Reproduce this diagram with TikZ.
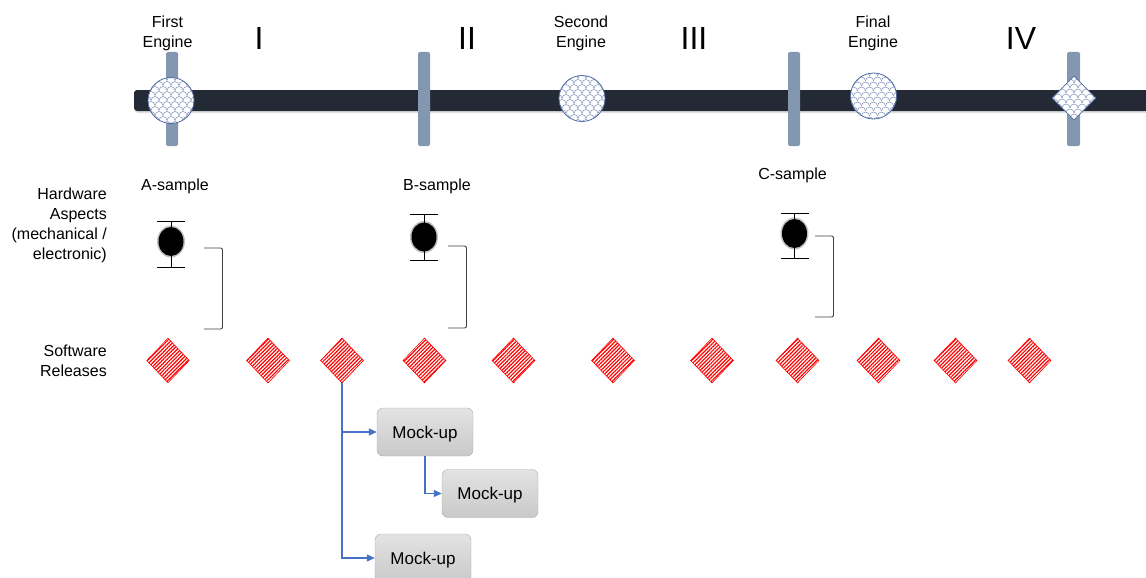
\documentclass[tikz,border=0pt]{standalone}
\usepackage{fontspec}
\setmainfont{Liberation Sans}
\usetikzlibrary{shapes.geometric,patterns.meta,arrows.meta,calc,shadows}

\definecolor{barc}{HTML}{232A35}
\definecolor{tickc}{HTML}{8497B0}
\definecolor{engb}{HTML}{4F6AA5}
\definecolor{engp}{HTML}{8C9DBF}
\definecolor{arrb}{HTML}{4472C4}
\definecolor{brk}{HTML}{404040}

\tikzset{
  lbl/.style={font=\fontsize{16}{20}\selectfont, align=center, inner sep=0pt},
  roman/.style={font=\fontsize{32}{36}\selectfont, inner sep=0pt},
  tickbar/.style={fill=tickc, rounded corners=2pt},
  scalefill/.style={fill=white, draw=engb, line width=0.8pt,
    path picture={
      \foreach \i in {-4,...,4} \foreach \j in {-6,...,6} {
        \draw[engp, line width=0.6pt]
          ($(path picture bounding box.center)+({\i*8+Mod(\j,2)*4-4},{\j*5})$) arc (180:360:4);
      }
    }},
  engine/.style={scalefill, circle, minimum size=46pt, inner sep=0pt},
  enginediam/.style={scalefill, diamond, minimum width=44pt, minimum height=44pt, inner sep=0pt},
  sw/.style={diamond, minimum width=43pt, minimum height=45pt, inner sep=0pt,
    draw=red, line width=0.6pt,
    pattern={Lines[angle=45,distance=2.6pt,line width=1.2pt]}, pattern color=red},
  ball/.style={ellipse, minimum width=25pt, minimum height=29pt, inner sep=0pt, fill=black},
  halo/.style={ellipse, minimum width=28pt, minimum height=32pt, inner sep=0pt, fill=black, opacity=0.25},
  errb/.style={line width=0.8pt, black},
  bracket/.style={draw=brk, line width=0.9pt, rounded corners=2pt},
  mock/.style={rounded corners=6pt, draw=gray!65, top color=gray!22, bottom color=gray!42,
    minimum width=96pt, minimum height=48pt, inner sep=0pt, text depth=0pt,
    font=\fontsize{17}{19}\selectfont},
  arr/.style={draw=arrb, line width=1.1pt, -{Triangle[length=8pt,width=7pt]}}
}

\begin{document}
\begin{tikzpicture}[x=1pt, y=-1pt]
\useasboundingbox (0,0) rectangle (1146,578);
\clip (0,0) rectangle (1146,578);

% timeline bar
\fill[barc, rounded corners=3pt, drop shadow={shadow xshift=1pt, shadow yshift=-2pt, opacity=0.25}] (134,90) rectangle (1160,111);

% vertical ticks
\fill[tickbar] (166,52) rectangle (178,146);
\fill[tickbar] (418,52) rectangle (430,146);
\fill[tickbar] (788,52) rectangle (800,146);
\fill[tickbar] (1067,52) rectangle (1080,146);

% engines
\node[engine] (e1) at (171,100.5) {};
\node[engine] (e2) at (582,98.5) {};
\node[engine] (e3) at (873.5,96) {};
\node[enginediam] (e4) at (1074,98) {};

% top labels
\node[lbl] (l1) at (167.5,33.5) {First\\Engine};
\node[lbl] (l2) at (581,33.5) {Second\\Engine};
\node[lbl] (l3) at (873,33.5) {Final\\Engine};
\node[roman] (r1) at (259,38.5) {I};
\node[roman] (r2) at (467,38.5) {II};
\node[roman] (r3) at (694,38.5) {III};
\node[roman] (r4) at (1021,38.5) {IV};

% left labels
\node[lbl, align=right, anchor=east] (hw) at (107,225) {Hardware\\Aspects\\(mechanical /\\electronic)};
\node[lbl, align=right, anchor=east] (swl) at (107,361) {Software\\Releases};

% samples
\node[lbl] (sa) at (175,186.5) {A-sample};
\node[lbl] (sb) at (437,186.5) {B-sample};
\node[lbl] (sc) at (792.5,175.5) {C-sample};

% error bar markers
\foreach \n/\x/\t/\b/\c in {A/171/221/267/241.5, B/424/214/260/237, C/794.5/213/258/233.5} {
  \draw[errb] (\x-14,\t) -- (\x+14,\t);
  \draw[errb] (\x-14,\b) -- (\x+14,\b);
  \draw[errb] (\x,\t) -- (\x,\b);
  \node[halo] at (\x,\c) {};
  \node[ball] (ball\n) at (\x,\c) {};
}

% brackets
\draw[bracket] (204,248) -- (222.5,248) -- (222.5,329) -- (204,329);
\draw[bracket] (448,246) -- (466.5,246) -- (466.5,328) -- (448,328);
\draw[bracket] (815,236) -- (833.5,236) -- (833.5,317) -- (815,317);

% software releases
\foreach \k/\x in {1/168,2/268,3/342,4/424.5,5/513.5,6/613,7/712,8/797.5,9/878.5,10/955.5,11/1029.5} {
  \node[sw] (sw\k) at (\x,360.5) {};
}

% mock-ups
\node[mock] (m1) at (425,432) {Mock-up};
\node[mock] (m2) at (490,493.5) {Mock-up};
\node[mock] (m3) at (423,558) {Mock-up};

% arrows
\draw[arr] (sw3.south) |- (m3.west);
\draw[arr] (sw3.south |- m1.west) -- (m1.west);
\draw[arr] (m1.south) |- (m2.west);
\end{tikzpicture}
\end{document}
